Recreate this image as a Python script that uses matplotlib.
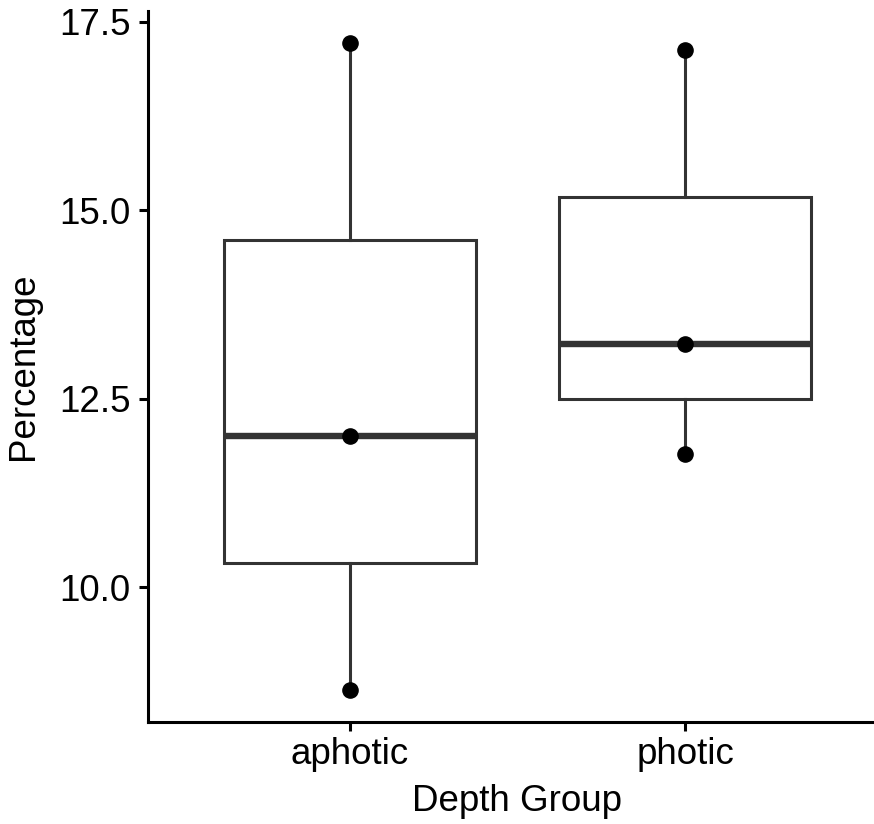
import numpy as np
import matplotlib.pyplot as plt

plt.rcParams['font.family'] = ['Liberation Sans', 'DejaVu Sans']

# values (three samples per group)
groups = ['aphotic', 'photic']
aphotic = [8.64, 12.0, 17.22]
photic = [11.77, 13.23, 17.13]
yticks = [10.0, 12.5, 15.0, 17.5]

data = [aphotic, photic]
pos = np.arange(1, len(groups) + 1)

fig = plt.figure(figsize=(8.74, 8.24), dpi=100)
ax = fig.add_axes([148 / 874, 102 / 824, 739 / 874, 711.4 / 824])

grey = '#333333'
ax.boxplot(data, positions=pos, widths=0.75, whis=(0, 100), showfliers=False,
           patch_artist=True,
           boxprops=dict(facecolor='white', edgecolor=grey, linewidth=2.2),
           whiskerprops=dict(color=grey, linewidth=2.2),
           capprops=dict(linewidth=0),
           medianprops=dict(color=grey, linewidth=4.6, solid_capstyle='butt'),
           zorder=1)

for p, vals in zip(pos, data):
    ax.scatter([p] * len(vals), vals, s=120, color='black', zorder=3)

lo = min(min(v) for v in data)
hi = max(max(v) for v in data)
span = hi - lo
ax.set_ylim(lo - 0.05 * span, hi + 0.05 * span)
ax.set_xlim(0.4, 2.6)

ax.set_xticks(pos)
ax.set_xticklabels(groups)
ax.set_yticks(yticks)
ax.set_yticklabels(['%.1f' % t for t in yticks])

for s in ['top', 'right']:
    ax.spines[s].set_visible(False)
for s in ['left', 'bottom']:
    ax.spines[s].set_linewidth(2.2)
    ax.spines[s].set_color('black')

ax.tick_params(axis='both', length=6.5, width=2.2, colors='black', labelsize=26.5)
ax.tick_params(axis='y', pad=6)
ax.tick_params(axis='x', pad=4)

ax.set_xlabel('Depth Group', fontsize=26.5, labelpad=9)
ax.set_ylabel('Percentage', fontsize=26.5, labelpad=13)

fig.savefig('out.png', dpi=100)
